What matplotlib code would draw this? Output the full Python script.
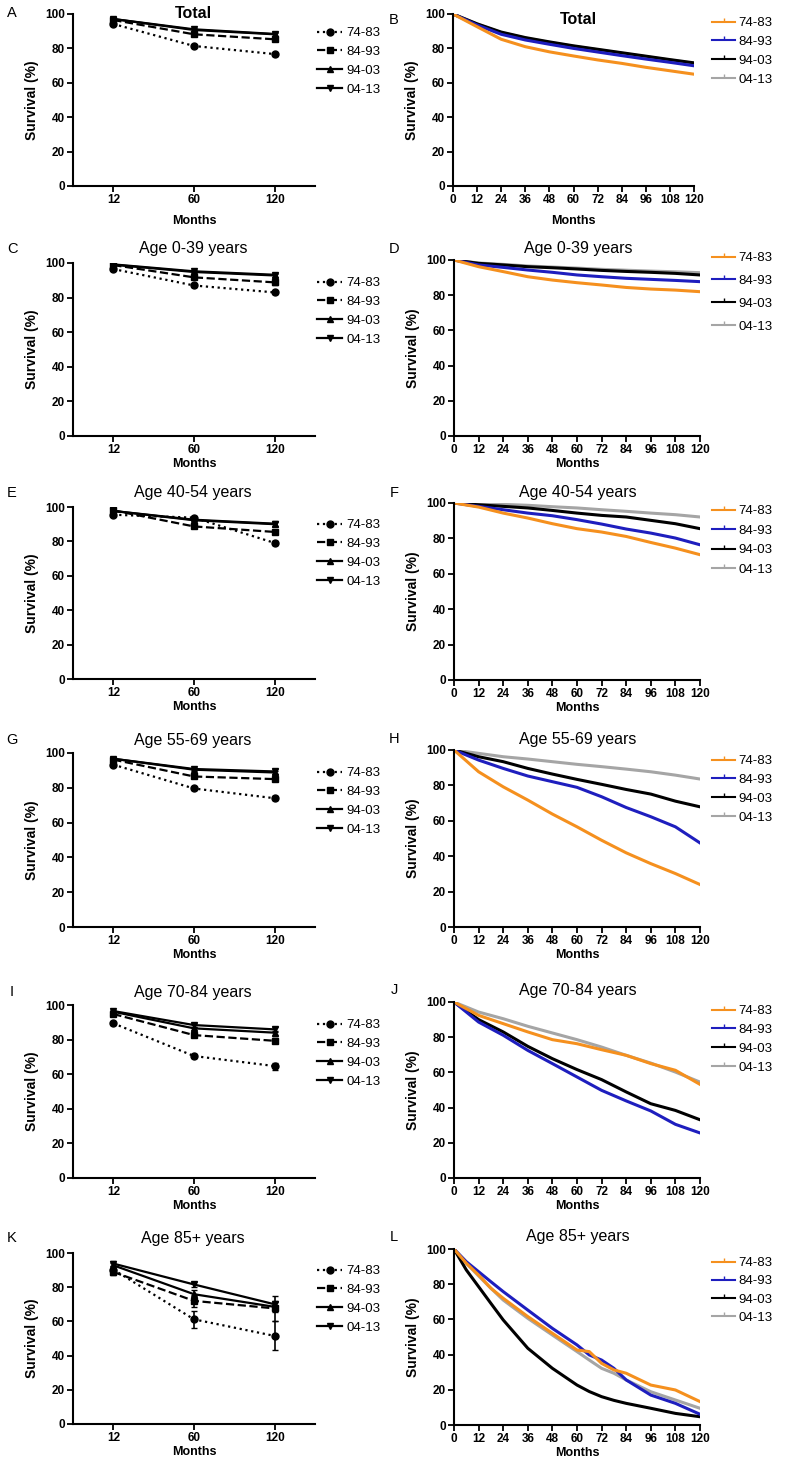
import matplotlib
matplotlib.use("Agg")
import matplotlib.pyplot as plt
from matplotlib.lines import Line2D

plt.rcParams["font.family"] = ["Liberation Sans", "DejaVu Sans"]

W, H = 788, 1462

GROUPS = ["74-83", "84-93", "94-03", "04-13"]
TITLES = ["Total", "Age 0-39 years", "Age 40-54 years", "Age 55-69 years",
          "Age 70-84 years", "Age 85+ years"]
LEFT_LETTERS = ["A", "C", "E", "G", "I", "K"]
RIGHT_LETTERS = ["B", "D", "F", "H", "J", "L"]

# left column: survival (%) at 12 / 60 / 120 months, one list per group
POINT_MONTHS = ["12", "60", "120"]
PTS_TOTAL = [[94.2, 81.4, 76.7], [96.5, 88.2, 85.3], [97.1, 90.7, 88.2], [97.1, 91.1, 88.4]]
PTS_0_39 = [[96.5, 87.0, 83.0], [98.8, 91.7, 88.8], [99.0, 94.8, 92.8], [99.2, 95.2, 93.2]]
PTS_40_54 = [[95.5, 93.8, 79.1], [98.0, 88.7, 85.5], [97.7, 92.3, 90.0], [97.7, 92.6, 90.3]]
PTS_55_69 = [[93.3, 79.6, 74.0], [96.2, 86.5, 85.0], [96.7, 90.4, 88.8], [96.7, 90.8, 89.4]]
PTS_70_84 = [[89.4, 70.5, 64.7], [94.8, 82.6, 79.3], [96.1, 86.5, 84.0], [96.5, 88.4, 85.9]]
PTS_85 = [[90.3, 61.2, 51.5], [88.9, 72.0, 67.6], [92.8, 75.9, 68.5], [93.8, 81.6, 70.0]]

ERR_TOTAL = [[0.5, 0.7, 0.9], [0.4, 0.8, 1.2], [0.4, 0.7, 1.0], [0.4, 0.8, 1.2]]
ERR_0_39 = [[0.5, 0.8, 1.0], [0.4, 0.8, 1.3], [0.3, 0.7, 1.0], [0.3, 0.8, 1.2]]
ERR_40_54 = [[0.6, 0.9, 1.0], [0.5, 0.9, 1.4], [0.4, 0.7, 1.0], [0.4, 0.8, 1.3]]
ERR_55_69 = [[0.6, 0.8, 1.0], [0.5, 0.8, 1.3], [0.4, 0.7, 1.0], [0.4, 0.8, 1.3]]
ERR_70_84 = [[1.0, 1.2, 2.0], [0.8, 1.2, 1.5], [0.6, 1.0, 1.2], [0.6, 1.0, 1.3]]
ERR_85 = [[2.0, 5.0, 8.5], [2.0, 3.5, 7.5], [1.5, 2.5, 3.0], [1.5, 1.5, 2.0]]

# right column: Kaplan-Meier survival (%)
KM_MONTHS = [0, 12, 24, 36, 48, 60, 72, 84, 96, 108, 120]
KM_TOTAL = [
    [100, 92.6, 85.3, 81.0, 78.0, 75.6, 73.3, 71.3, 69.0, 67.0, 65.0],
    [100, 93.6, 88.2, 84.9, 82.4, 80.0, 77.9, 75.8, 73.8, 71.9, 69.9],
    [100, 94.3, 89.5, 86.3, 83.8, 81.5, 79.5, 77.5, 75.5, 73.5, 71.6],
    [100, 94.1, 89.2, 86.0, 83.5, 81.2, 79.2, 77.2, 75.2, 73.2, 71.3],
]
KM_0_39 = [
    [100, 96.2, 93.4, 90.5, 88.6, 87.1, 85.8, 84.4, 83.5, 82.9, 82.0],
    [100, 97.2, 95.8, 94.3, 93.0, 91.5, 90.5, 89.6, 89.0, 88.4, 87.7],
    [100, 98.1, 97.2, 96.2, 95.6, 94.9, 94.1, 93.5, 93.0, 92.4, 91.5],
    [100, 98.3, 97.5, 96.6, 96.0, 95.4, 94.7, 94.2, 93.7, 93.3, 92.8],
]
KM_40_54 = [
    [100, 97.7, 94.3, 91.5, 88.3, 85.5, 83.6, 81.1, 77.7, 74.5, 70.8],
    [100, 98.1, 96.2, 94.3, 92.8, 90.6, 88.1, 85.3, 83.0, 80.2, 76.4],
    [100, 99.0, 98.1, 97.2, 95.8, 94.3, 93.0, 92.1, 90.2, 88.3, 85.5],
    [100, 99.6, 99.2, 98.7, 97.9, 97.2, 96.2, 95.3, 94.3, 93.4, 92.1],
]
KM_55_69 = [
    [100, 87.7, 79.2, 71.7, 63.8, 56.6, 49.0, 41.9, 35.8, 30.2, 24.0],
    [100, 94.3, 89.6, 85.3, 82.1, 78.9, 73.6, 67.5, 62.3, 56.6, 47.5],
    [100, 96.2, 93.4, 89.6, 86.4, 83.4, 80.6, 77.7, 75.1, 71.1, 67.9],
    [100, 98.1, 96.2, 94.9, 93.4, 91.9, 90.6, 89.2, 87.7, 85.8, 83.6],
]
KM_70_84 = [
    [100, 92.4, 87.7, 83.0, 78.6, 76.3, 72.9, 69.7, 65.0, 61.2, 53.2],
    [100, 88.6, 81.1, 72.5, 65.0, 57.4, 49.8, 43.8, 38.1, 30.5, 25.6],
    [100, 90.0, 83.0, 74.8, 67.8, 61.6, 55.9, 48.9, 42.2, 38.4, 33.1],
    [100, 94.3, 90.5, 86.2, 82.4, 78.6, 74.4, 69.7, 65.3, 60.2, 54.5],
]
KM_MONTHS_85 = [0, 6, 12, 18, 24, 36, 48, 60, 66, 72, 78, 84, 96, 108, 120]
KM_85 = [
    [100, 91.9, 85.2, 77.7, 72.0, 61.6, 52.1, 42.6, 41.7, 35.0, 31.3, 29.4, 22.7, 19.9, 13.3],
    [100, 92.8, 87.1, 81.4, 75.8, 65.3, 54.9, 45.5, 39.8, 36.9, 32.2, 25.6, 17.0, 12.3, 6.1],
    [100, 88.1, 78.6, 69.1, 59.7, 43.6, 32.2, 22.7, 19.0, 16.1, 14.0, 12.3, 9.5, 6.6, 4.7],
    [100, 91.9, 84.7, 77.7, 71.0, 60.6, 51.1, 41.7, 36.9, 32.2, 29.4, 25.6, 18.9, 14.2, 9.5],
]

LEFT_DATA = [(PTS_TOTAL, ERR_TOTAL), (PTS_0_39, ERR_0_39), (PTS_40_54, ERR_40_54),
             (PTS_55_69, ERR_55_69), (PTS_70_84, ERR_70_84), (PTS_85, ERR_85)]
RIGHT_DATA = [(KM_MONTHS, KM_TOTAL), (KM_MONTHS, KM_0_39), (KM_MONTHS, KM_40_54),
              (KM_MONTHS, KM_55_69), (KM_MONTHS, KM_70_84), (KM_MONTHS_85, KM_85)]

LINE_STYLES = [":", "--", "-", "-"]
MARKERS = ["o", "s", "^", "v"]
KM_COLORS = ["#F5901E", "#1E1EBE", "#000000", "#A5A5A5"]

# panel boxes in pixels: left, top, right, bottom
LEFT_BOX = [(73, 14, 315, 186), (73, 263, 315, 436), (73, 507, 315, 679),
            (73, 753, 315, 927), (73, 1005, 315, 1178), (73, 1253, 315, 1424)]
RIGHT_BOX = [(453, 14, 694, 186), (454, 260, 700, 436), (454, 503, 700, 680),
             (454, 750, 700, 927), (454, 1002, 700, 1178), (454, 1249, 700, 1425)]
LEFT_TITLE_Y = [13, 249, 493, 740, 992, 1238]
RIGHT_TITLE_Y = [20, 249, 493, 739, 990, 1237]
LEFT_LEG_Y = [27, 277, 519, 767, 1019, 1265]
RIGHT_LEG_Y = [17, 252, 505, 755, 1005, 1257]
RIGHT_LEG_SPACING = [0.5, 0.8, 0.55, 0.5, 0.5, 0.45]


fig = plt.figure(figsize=(W / 100, H / 100), dpi=100)


def fx(x):
    return x / W


def fy(y):
    return 1 - y / H


def make_axes(box):
    l, t, r, b = box
    ax = fig.add_axes([fx(l), fy(b), (r - l) / W, (b - t) / H])
    ax.spines["top"].set_visible(False)
    ax.spines["right"].set_visible(False)
    for s in ("left", "bottom"):
        ax.spines[s].set_linewidth(1.5)
    ax.tick_params(direction="out", length=4, width=1.3, labelsize=8.5, pad=2)
    ax.set_ylim(0, 100)
    ax.set_yticks(range(0, 101, 20))
    ax.set_ylabel("Survival (%)", fontsize=10, fontweight="bold", labelpad=4)
    return ax


def bold_ticks(ax):
    for lbl in ax.get_xticklabels() + ax.get_yticklabels():
        lbl.set_fontweight("bold")


for i in range(6):
    # left: point estimates with error bars
    pts, errs = LEFT_DATA[i]
    ax = make_axes(LEFT_BOX[i])
    xs = range(len(POINT_MONTHS))
    for g in range(4):
        ax.errorbar(xs, pts[g], yerr=errs[g], color="black", linestyle=LINE_STYLES[g],
                    linewidth=1.6, marker=MARKERS[g], markersize=5, capsize=2.5,
                    elinewidth=1.2)
    ax.set_xlim(-0.5, 2.5)
    ax.set_xticks(list(xs))
    ax.set_xticklabels(POINT_MONTHS)
    ax.set_xlabel("Months", fontsize=9, fontweight="bold", labelpad=6 if i == 0 else 1)
    bold_ticks(ax)
    handles = [Line2D([], [], color="black", linestyle=LINE_STYLES[g], linewidth=1.6,
                      marker=MARKERS[g], markersize=5) for g in range(4)]
    ax.legend(handles, GROUPS, loc="upper left",
              bbox_to_anchor=(fx(317), fy(LEFT_LEG_Y[i])),
              bbox_transform=fig.transFigure, frameon=False, fontsize=9.5,
              handlelength=1.9, handletextpad=0.3, borderpad=0, borderaxespad=0,
              labelspacing=0.5, numpoints=1)
    fig.text(fx(193), fy(LEFT_TITLE_Y[i]), TITLES[i], ha="center", va="center",
             fontsize=11.5, fontweight="bold" if i == 0 else "normal")
    fig.text(fx(12), fy(LEFT_TITLE_Y[i]), LEFT_LETTERS[i], ha="center", va="center",
             fontsize=10.5)

    # right: Kaplan-Meier curves
    months, km = RIGHT_DATA[i]
    ax = make_axes(RIGHT_BOX[i])
    for g in [3, 2, 1, 0]:
        ax.plot(months, km[g], color=KM_COLORS[g], linewidth=2.2)
    ax.set_xlim(0, 120)
    ax.set_xticks(range(0, 121, 12))
    ax.set_xlabel("Months", fontsize=9, fontweight="bold", labelpad=6 if i == 0 else 1)
    bold_ticks(ax)
    handles = [Line2D([], [], color=KM_COLORS[g], linewidth=1.5, marker=2,
                      markersize=3, markeredgewidth=1.0) for g in range(4)]
    ax.legend(handles, GROUPS, loc="upper left",
              bbox_to_anchor=(fx(712), fy(RIGHT_LEG_Y[i])),
              bbox_transform=fig.transFigure, frameon=False, fontsize=9.5,
              handlelength=1.75, handletextpad=0.25, borderpad=0, borderaxespad=0,
              labelspacing=RIGHT_LEG_SPACING[i], numpoints=1)
    fig.text(fx(578), fy(RIGHT_TITLE_Y[i]), TITLES[i], ha="center", va="center",
             fontsize=11.5, fontweight="bold" if i == 0 else "normal")
    fig.text(fx(394), fy(RIGHT_TITLE_Y[i]), RIGHT_LETTERS[i], ha="center", va="center",
             fontsize=10.5)

fig.savefig("out.png", dpi=100)
